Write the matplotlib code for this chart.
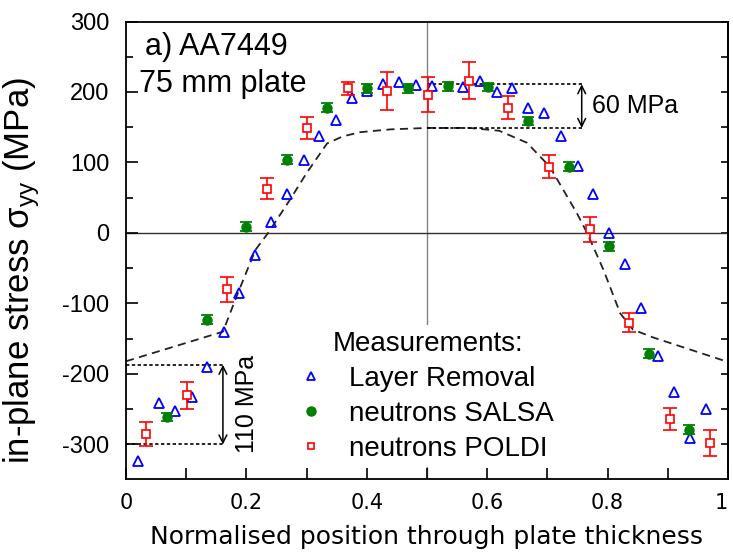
import numpy as np
import matplotlib
matplotlib.use("Agg")
import matplotlib.pyplot as plt
from matplotlib.lines import Line2D

plt.rcParams['font.family'] = ['Liberation Sans', 'DejaVu Sans']
plt.rcParams['mathtext.default'] = 'regular'
plt.rcParams['axes.unicode_minus'] = False

# layer removal (blue triangles)
lr_x = [0.0205, 0.054, 0.081, 0.109, 0.134, 0.162, 0.188, 0.214, 0.241, 0.268,
        0.295, 0.321, 0.349, 0.375, 0.401, 0.427, 0.453, 0.482, 0.508, 0.560,
        0.588, 0.616, 0.642, 0.668, 0.695, 0.722, 0.750, 0.775, 0.803, 0.829,
        0.855, 0.883, 0.910, 0.937, 0.963]
lr_y = [-323, -241, -253, -232, -190, -140, -85, -31, 15, 56,
        103, 137, 160, 192, 201, 211, 214, 210, 208, 207,
        215, 200, 205, 178, 170, 138, 95, 56, 0, -44,
        -107, -175, -225, -291, -249]

# neutrons SALSA (green circles)
salsa_x = [0.0675, 0.134, 0.200, 0.268, 0.334, 0.401, 0.468, 0.535, 0.602,
           0.668, 0.736, 0.803, 0.868, 0.936]
salsa_y = [-261, -123, 9, 104, 178, 205, 205, 208, 207, 159, 94, -19, -171, -279]
salsa_err = [6, 6, 6, 6, 6, 6, 6, 6, 6, 6, 6, 6, 6, 6]

# neutrons POLDI (red squares)
poldi_x = [0.034, 0.101, 0.167, 0.234, 0.301, 0.368, 0.434, 0.502, 0.569,
           0.635, 0.702, 0.770, 0.836, 0.903, 0.970]
poldi_y = [-285, -230, -80, 63, 149, 205, 202, 196, 216, 178, 94, 5, -127, -264, -298]
poldi_err = [17, 19, 18, 15, 16, 9, 27, 25, 26, 17, 16, 18, 14, 16, 18]

# model curve (dashed)
model_x = [0, 0.161, 0.186, 0.215, 0.236, 0.27, 0.30, 0.334, 0.36, 0.389, 0.44,
           0.5, 0.571, 0.62, 0.666, 0.704, 0.749, 0.766, 0.793, 0.821, 0.842,
           0.875, 1.0]
model_y = [-182, -140, -85, -24, 0, 44, 85, 127, 137, 143, 147,
           149, 149, 145, 128, 94, 28, 0, -52, -114, -137,
           -148, -183]

fig = plt.figure(figsize=(7.33, 5.56), dpi=100)
ax = fig.add_axes([126/733, 1 - 479/556, 602/733, (479 - 21.5)/556])

ax.axvline(0.5, color='#808080', lw=1.0, zorder=1)
ax.axhline(0, color='#303030', lw=1.0, zorder=1)

ax.plot(model_x, model_y, color='#222222', lw=1.3, ls=(0, (4.5, 3)), zorder=2)

ax.plot(lr_x, lr_y, ls='none', marker='^', ms=7.8, mfc='none', mec='#0000ff',
        mew=1.3, zorder=3)
ax.errorbar(salsa_x, salsa_y, yerr=salsa_err, fmt='o', ms=6.5, color='#008000',
            ecolor='#008000', elinewidth=1.3, capsize=4.5, capthick=1.3, zorder=4)
ax.errorbar(poldi_x, poldi_y, yerr=poldi_err, fmt='s', ms=5.5, mfc='white',
            mec='#ff0000', mew=1.2, ecolor='#ff0000', elinewidth=1.2,
            capsize=4.8, capthick=1.2, zorder=5)

# 60 MPa annotation
ax.plot([0.5, 0.757], [211, 211], color='black', lw=1.2, ls=(0, (2, 1.5)), zorder=2)
ax.plot([0.5, 0.757], [149, 149], color='black', lw=1.2, ls=(0, (2, 1.5)), zorder=2)
ax.annotate('', xy=(0.757, 211), xytext=(0.757, 149),
            arrowprops=dict(arrowstyle='<->', lw=1.1, color='black',
                            shrinkA=0, shrinkB=0, mutation_scale=14))
ax.text(0.7735, 170.6, '60 MPa', fontsize=18, va='baseline', ha='left')

# 110 MPa annotation
ax.plot([0, 0.161], [-187, -187], color='black', lw=1.2, ls=(0, (2, 1.5)), zorder=2)
ax.plot([0, 0.161], [-300, -300], color='black', lw=1.2, ls=(0, (2, 1.5)), zorder=2)
ax.annotate('', xy=(0.161, -187), xytext=(0.161, -300),
            arrowprops=dict(arrowstyle='<->', lw=1.1, color='black',
                            shrinkA=0, shrinkB=0, mutation_scale=14))
ax.text(0.201, -243, '110 MPa', fontsize=18, rotation=90, va='center', ha='center')

ax.text(0.0316, 253, 'a) AA7449', fontsize=22, va='baseline', ha='left')
ax.text(0.0216, 200, '75 mm plate', fontsize=22, va='baseline', ha='left')

handles = [
    Line2D([], [], ls='none', marker='^', ms=6, mfc='none', mec='#0000ff', mew=1.3),
    Line2D([], [], ls='none', marker='o', ms=6.5, color='#008000'),
    Line2D([], [], ls='none', marker='s', ms=5, mfc='white', mec='#ff0000', mew=1.2),
]
labels = ['Layer Removal', 'neutrons SALSA', 'neutrons POLDI']
leg = ax.legend(handles, labels, title='Measurements:', loc='upper left',
                bbox_to_anchor=(0.285, 0.336), fontsize=20, title_fontsize=20,
                frameon=True, facecolor='white', edgecolor='none', framealpha=1,
                borderpad=0.2, handlelength=0.6, handletextpad=1.05,
                labelspacing=0.32, borderaxespad=0)
leg.set_zorder(6)

ax.set_xlim(0, 1)
ax.set_ylim(-349, 300)

ax.set_xticks(np.arange(0, 1.01, 0.2))
ax.set_xticks(np.arange(0.1, 1.0, 0.2), minor=True)
ax.set_xticklabels(['0', '0.2', '0.4', '0.6', '0.8', '1'], family='DejaVu Sans',
                   fontsize=15)
ax.get_xticklabels()[-1].set_horizontalalignment('right')
ax.set_yticks(np.arange(-300, 301, 100))
ax.set_yticks(np.arange(-250, 300, 100), minor=True)
ax.tick_params(axis='x', which='both', direction='in', length=8, width=1.2, pad=10,
               top=False)
ax.tick_params(axis='y', which='major', direction='in', length=8.6, width=1.2,
               labelsize=17, pad=12)
ax.tick_params(axis='y', which='minor', direction='in', length=4.7, width=1.2)

sec = ax.secondary_yaxis('right')
sec.set_yticks(np.arange(-300, 301, 50))
sec.tick_params(direction='in', length=5, width=1.2, labelright=False)

for s in list(ax.spines.values()) + [sec.spines['right']]:
    s.set_linewidth(1.3)

ax.set_xlabel('Normalised position through plate thickness', fontsize=18,
              family='DejaVu Sans')
ax.xaxis.set_label_coords(0.5, -0.1)
ax.set_ylabel('in-plane stress σ$_{yy}$ (MPa)', fontsize=25)
ax.yaxis.set_label_coords(-0.14, 0.456)

fig.savefig('out.png', dpi=100)
